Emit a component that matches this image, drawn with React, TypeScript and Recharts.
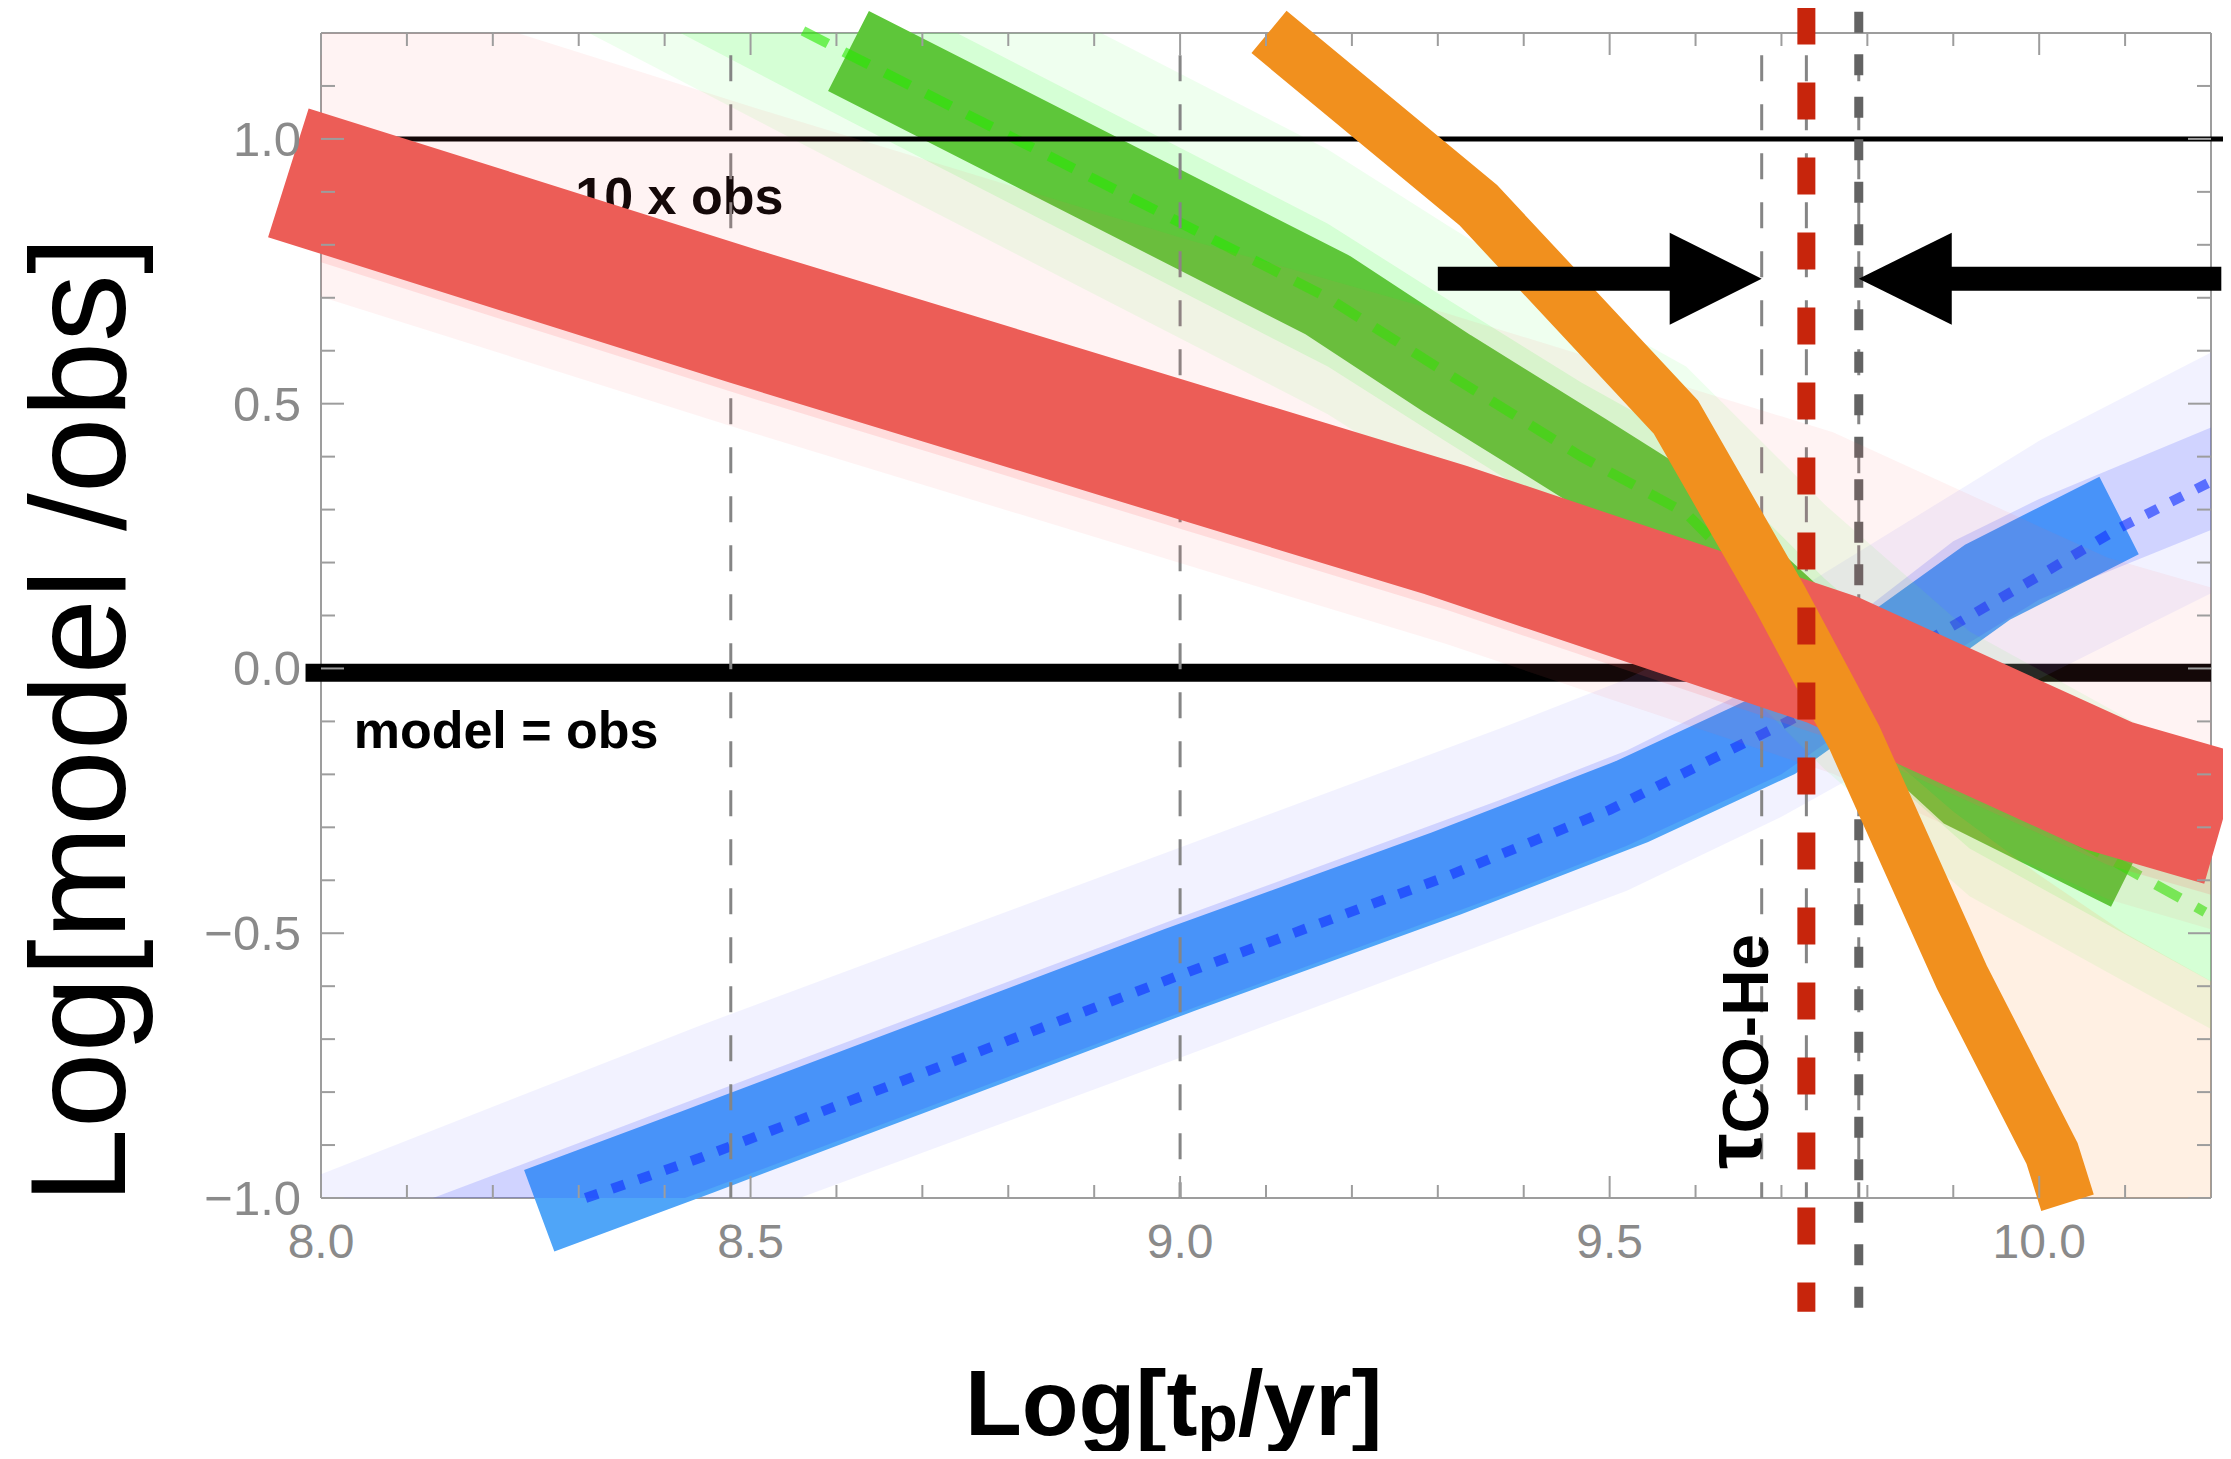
import React from 'react';
import { ComposedChart, XAxis, YAxis, Line, Area, ReferenceLine, ReferenceDot } from 'recharts';

const FONT = '"Liberation Sans", Arial, Helvetica, sans-serif';
const FRAME = '#9d9d9d';
const TICK_TEXT = '#8a8a8a';

// ---------------- axis ticks ----------------
const xMajorTicks = [8.0, 8.5, 9.0, 9.5, 10.0];
const xTicks = [8.0, 8.1, 8.2, 8.3, 8.4, 8.5, 8.6, 8.7, 8.8, 8.9, 9.0, 9.1, 9.2, 9.3, 9.4, 9.5, 9.6, 9.7, 9.8, 9.9, 10.0, 10.1];
const yMajorTicks = [-1.0, -0.5, 0.0, 0.5, 1.0];
const yTicks = [-1.0, -0.9, -0.8, -0.7, -0.6, -0.5, -0.4, -0.3, -0.2, -0.1, 0.0, 0.1, 0.2, 0.3, 0.4, 0.5, 0.6, 0.7, 0.8, 0.9, 1.0, 1.1];

// ---------------- blue model ----------------
const blueBandX = [8.254, 8.44, 9.0, 9.31, 9.525, 9.69, 9.94, 10.093];
const blueBandY = [-1.024, -0.912, -0.569, -0.387, -0.252, -0.128, 0.163, 0.289];
const blueMedX = [8.308, 8.44, 9.0, 9.31, 9.5, 9.71, 9.884, 10.0, 10.092, 10.205];
const blueMedY = [-1.0, -0.925, -0.579, -0.393, -0.267, -0.098, 0.066, 0.175, 0.264, 0.357];
const blueEnvX = [8.0, 8.44, 9.0, 9.37, 9.52, 9.7, 9.9, 10.0, 10.21];
const blueWideLo = [-1.35, -1.07, -0.735, -0.511, -0.42, -0.28, -0.1, -0.02, 0.15];
const blueWideHi = [-0.955, -0.675, -0.338, -0.115, -0.02, 0.13, 0.33, 0.43, 0.605];
const blueMidLo = [-1.26, -0.99, -0.65, -0.43, -0.335, -0.2, 0.03, 0.13, 0.268];
const blueMidHi = [-1.08, -0.81, -0.47, -0.25, -0.155, -0.01, 0.24, 0.32, 0.462];

// ---------------- green model ----------------
const greenBandX = [8.614, 9.172, 9.311, 9.467, 9.577, 9.75, 9.919, 10.107];
const greenBandY = [1.166, 0.705, 0.557, 0.4, 0.287, 0.03, -0.222, -0.374];
const greenMedX = [8.561, 8.614, 9.172, 9.311, 9.467, 9.589, 9.75, 9.919, 10.109, 10.193];
const greenMedY = [1.204, 1.16, 0.7, 0.557, 0.4, 0.293, 0.03, -0.21, -0.384, -0.46];
const greenEnvX = [8.3, 8.614, 9.172, 9.311, 9.467, 9.589, 9.75, 9.919, 10.109, 10.21];
const greenWideLo = [1.21, 0.945, 0.48, 0.337, 0.18, 0.07, -0.19, -0.43, -0.6, -0.69];
const greenWideHi = [1.71, 1.445, 0.98, 0.837, 0.68, 0.57, 0.31, 0.07, -0.1, -0.19];
const greenMidLo = [1.3, 1.035, 0.57, 0.427, 0.27, 0.16, -0.1, -0.34, -0.51, -0.6];
const greenMidHi = [1.57, 1.305, 0.84, 0.697, 0.54, 0.43, 0.17, -0.07, -0.24, -0.33];

// ---------------- red model ----------------
const redBandX = [7.962, 8.5, 9.0, 9.31, 9.76, 10.08, 10.214];
const redBandY = [0.936, 0.661, 0.414, 0.261, 0.016, -0.221, -0.284];
const redEnvX = [8.0, 8.5, 9.0, 9.31, 9.76, 10.08, 10.21];
const redWideLo = [0.702, 0.446, 0.199, 0.046, -0.199, -0.436, -0.497];
const redWideHi = [1.317, 1.061, 0.814, 0.671, 0.446, 0.209, 0.148];
const redMidLo = [0.767, 0.511, 0.264, 0.111, -0.134, -0.371, -0.432];
const redMidHi = [0.967, 0.711, 0.464, 0.311, 0.066, -0.171, -0.232];

// ---------------- orange model ----------------
const orangeBandX = [9.1035, 9.347, 9.577, 9.699, 9.785, 9.91, 10.015, 10.033];
const orangeBandY = [1.202, 0.875, 0.475, 0.13, -0.131, -0.583, -0.916, -1.009];
const orangeEnvX = [9.7, 9.8, 9.9, 10.0, 10.1, 10.21];
const orangeEnvLo = [0.127, -0.185, -0.548, -0.868, -1.3, -1.7];
const orangeEnvHi = [0.2, -0.13, -0.27, -0.39, -0.5, -0.6];

// ---------------- reference markers ----------------
const gridLinesX = [8.477, 9.0, 9.677, 9.729, 9.79];
const tauCOHe = 9.729;
const tauOther = 9.79;
const arrowY = 0.736;

const pts = (xs: number[], ys: number[]) => xs.map((x, i) => ({ x, y: ys[i] }));
const band = (xs: number[], lo: number[], hi: number[]) => xs.map((x, i) => ({ x, range: [lo[i], hi[i]] }));

const isMajor = (v: number, majors: number[]) => majors.some((m) => Math.abs(m - v) < 1e-6);
const fmt = (v: number) => (v < -1e-9 ? '\u2212' : '') + Math.abs(v).toFixed(1);

const BottomTick = (p: any) => {
  const v = p.payload.value;
  const major = isMajor(v, xMajorTicks);
  return (
    <g>
      <line x1={p.x} x2={p.x} y1={p.y} y2={p.y - (major ? 22 : 13)} stroke={FRAME} strokeWidth={2} />
      {major ? (
        <text x={p.x} y={p.y + 60} textAnchor="middle" fontSize={48} fill={TICK_TEXT} fontFamily={FONT}>
          {fmt(v)}
        </text>
      ) : null}
    </g>
  );
};
const TopTick = (p: any) => {
  const major = isMajor(p.payload.value, xMajorTicks);
  return <line x1={p.x} x2={p.x} y1={p.y} y2={p.y + (major ? 22 : 13)} stroke={FRAME} strokeWidth={2} />;
};
const LeftTick = (p: any) => {
  const v = p.payload.value;
  const major = isMajor(v, yMajorTicks);
  return (
    <g>
      <line x1={p.x} x2={p.x + (major ? 23 : 14)} y1={p.y} y2={p.y} stroke={FRAME} strokeWidth={2} />
      {major ? (
        <text x={p.x - 20} y={p.y + 17} textAnchor="end" fontSize={49} fill={TICK_TEXT} fontFamily={FONT}>
          {fmt(v)}
        </text>
      ) : null}
    </g>
  );
};
const RightTick = (p: any) => {
  const major = isMajor(p.payload.value, yMajorTicks);
  return <line x1={p.x} x2={p.x - (major ? 23 : 14)} y1={p.y} y2={p.y} stroke={FRAME} strokeWidth={2} />;
};

const XLabel = (props: any) => {
  const vb = props.viewBox || { x: 313, y: 1190 };
  return (
    <text x={vb.x + 644} y={vb.y + 237} fontSize={93} fontWeight="bold" fill="#000" fontFamily={FONT}>
      Log[t
      <tspan fontSize={66} dy={6}>p</tspan>
      <tspan dy={-6}>/yr]</tspan>
    </text>
  );
};
const YLabel = (props: any) => {
  const vb = props.viewBox || { x: 0, y: 25 };
  const cx = vb.x + 117;
  const cy = vb.y + 687;
  return (
    <text x={cx} y={cy} transform={`rotate(-90 ${cx} ${cy})`} textAnchor="middle" fontSize={136} fill="#000" fontFamily={FONT}>
      Log[model /obs]
    </text>
  );
};

const rightHead = (p: any) => (
  <polygon points={`${p.cx},${p.cy} ${p.cx - 92},${p.cy - 46} ${p.cx - 92},${p.cy + 46}`} fill="#000" />
);
const leftHead = (p: any) => (
  <polygon points={`${p.cx},${p.cy} ${p.cx + 93},${p.cy - 46} ${p.cx + 93},${p.cy + 46}`} fill="#000" />
);
const boldText = (txt: string) => (p: any) => (
  <text x={p.cx} y={p.cy} fontSize={52} fontWeight="bold" fill="#000" fontFamily={FONT}>
    {txt}
  </text>
);
const tauText = (p: any) => (
  <text x={p.cx} y={p.cy} transform={`rotate(-90 ${p.cx} ${p.cy})`} fontWeight="bold" fill="#000" fontFamily={FONT}>
    <tspan fontSize={80}>τ</tspan>
    <tspan fontSize={64} dy={7}>CO-He</tspan>
  </text>
);

const css = `
.recharts-surface { overflow: visible; }
.recharts-line, .recharts-line * { clip-path: none !important; }
`;

export default function App() {
  const lineCommon = { type: 'linear' as const, dataKey: 'y', dot: false, activeDot: false, isAnimationActive: false, strokeLinecap: 'butt' as const };
  const areaCommon = { type: 'linear' as const, dataKey: 'range', stroke: 'none', isAnimationActive: false, activeDot: false, dot: false };
  return (
    <div>
      <style>{css}</style>
      <ComposedChart width={2215} height={1443} margin={{ top: 25, right: 12, bottom: 0, left: 0 }}>
        <XAxis
          dataKey="x"
          type="number"
          domain={[8, 10.2]}
          allowDataOverflow
          ticks={xTicks}
          interval={0}
          tick={BottomTick}
          tickLine={false}
          tickSize={0}
          tickMargin={0}
          height={253}
          axisLine={{ stroke: FRAME, strokeWidth: 2 }}
          label={XLabel}
          zIndex={5}
        />
        <XAxis
          xAxisId="top"
          dataKey="x"
          orientation="top"
          mirror
          type="number"
          domain={[8, 10.2]}
          allowDataOverflow
          ticks={xTicks}
          interval={0}
          tick={TopTick}
          tickLine={false}
          tickSize={0}
          tickMargin={0}
          axisLine={{ stroke: FRAME, strokeWidth: 2 }}
          zIndex={5}
        />
        <YAxis
          type="number"
          domain={[-1, 1.2]}
          allowDataOverflow
          ticks={yTicks}
          interval={0}
          tick={LeftTick}
          tickLine={false}
          tickSize={0}
          tickMargin={0}
          width={313}
          axisLine={{ stroke: FRAME, strokeWidth: 2 }}
          label={YLabel}
          zIndex={5}
        />
        <YAxis
          yAxisId="right"
          orientation="right"
          mirror
          type="number"
          domain={[-1, 1.2]}
          allowDataOverflow
          ticks={yTicks}
          interval={0}
          tick={RightTick}
          tickLine={false}
          tickSize={0}
          tickMargin={0}
          axisLine={{ stroke: FRAME, strokeWidth: 2 }}
          zIndex={5}
        />

        {/* model = obs line */}
        <ReferenceLine segment={[{ x: 7.982, y: -0.008 }, { x: 10.2, y: -0.008 }]} stroke="#000" strokeWidth={18} ifOverflow="visible" zIndex={10} />

        {/* blue */}
        <Area {...areaCommon} data={band(blueEnvX, blueWideLo, blueWideHi)} fill="#8080ff" fillOpacity={0.1} zIndex={20} />
        <Line {...lineCommon} data={pts(blueBandX, blueBandY)} stroke="#4fa5f8" strokeWidth={87} zIndex={21} />
        <Area {...areaCommon} data={band(blueEnvX, blueMidLo, blueMidHi)} fill="#2a3cff" fillOpacity={0.17} zIndex={22} />
        <Line {...lineCommon} data={pts(blueMedX, blueMedY)} stroke="#1030ff" strokeOpacity={0.62} strokeWidth={10} strokeDasharray="13 15" zIndex={23} />

        {/* green */}
        <Area {...areaCommon} data={band(greenEnvX, greenWideLo, greenWideHi)} fill="#60ff60" fillOpacity={0.1} zIndex={30} />
        <Area {...areaCommon} data={band(greenEnvX, greenMidLo, greenMidHi)} fill="#60ff60" fillOpacity={0.18} zIndex={31} />
        <Line {...lineCommon} data={pts(greenBandX, greenBandY)} stroke="#5ec63a" strokeWidth={90} zIndex={32} />
        <Line {...lineCommon} data={pts(greenMedX, greenMedY)} stroke="#28e800" strokeOpacity={0.6} strokeWidth={10} strokeDasharray="28 18" zIndex={33} />

        {/* 10 x obs line */}
        <ReferenceLine segment={[{ x: 8.0, y: 1 }, { x: 10.215, y: 1 }]} stroke="#000" strokeWidth={5} ifOverflow="visible" zIndex={34} />
        <ReferenceDot x={8.296} y={0.859} r={1} ifOverflow="visible" shape={boldText('10 x obs')} zIndex={35} />

        {/* thin dashed grid lines */}
        {gridLinesX.map((gx) => (
          <ReferenceLine key={gx} segment={[{ x: gx, y: 1.158 }, { x: gx, y: -1.0 }]} stroke="#858585" strokeWidth={3} strokeDasharray="26 23" ifOverflow="visible" zIndex={36} />
        ))}
        <ReferenceLine segment={[{ x: tauOther, y: 1.24 }, { x: tauOther, y: -1.21 }]} stroke="#636363" strokeWidth={9} strokeDasharray="21 21.5" ifOverflow="visible" zIndex={37} />

        {/* red */}
        <Area {...areaCommon} data={band(redEnvX, redWideLo, redWideHi)} fill="#ff6060" fillOpacity={0.08} zIndex={40} />
        <Area {...areaCommon} data={band(redEnvX, redMidLo, redMidHi)} fill="#ff6060" fillOpacity={0.15} zIndex={41} />
        <Line {...lineCommon} data={pts(redBandX, redBandY)} stroke="#ec5d57" strokeWidth={135} zIndex={42} />

        {/* orange */}
        <Area {...areaCommon} data={band(orangeEnvX, orangeEnvLo, orangeEnvHi)} fill="#ff9a40" fillOpacity={0.15} zIndex={50} />
        <Line {...lineCommon} data={pts(orangeBandX, orangeBandY)} stroke="#f1901e" strokeWidth={55} zIndex={51} />

        {/* tau_CO-He marker */}
        <ReferenceLine segment={[{ x: tauCOHe, y: 1.248 }, { x: tauCOHe, y: -1.215 }]} stroke="#c7250c" strokeWidth={18} strokeDasharray="37 38" ifOverflow="visible" zIndex={60} />

        {/* arrows */}
        <ReferenceLine segment={[{ x: 9.3, y: arrowY }, { x: 9.58, y: arrowY }]} stroke="#000" strokeWidth={24} ifOverflow="visible" zIndex={61} />
        <ReferenceDot x={9.677} y={arrowY} r={1} ifOverflow="visible" shape={rightHead} zIndex={62} />
        <ReferenceLine segment={[{ x: 9.89, y: arrowY }, { x: 10.212, y: arrowY }]} stroke="#000" strokeWidth={24} ifOverflow="visible" zIndex={61} />
        <ReferenceDot x={9.79} y={arrowY} r={1} ifOverflow="visible" shape={leftHead} zIndex={62} />

        {/* text annotations */}
        <ReferenceDot x={8.038} y={-0.15} r={1} ifOverflow="visible" shape={boldText('model = obs')} zIndex={63} />
        <ReferenceDot x={9.6757} y={-0.945} r={1} ifOverflow="visible" shape={tauText} zIndex={63} />
      </ComposedChart>
    </div>
  );
}
